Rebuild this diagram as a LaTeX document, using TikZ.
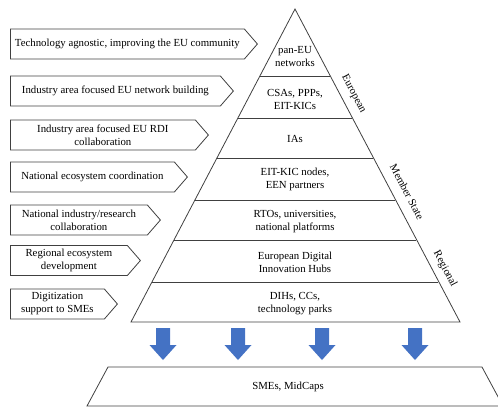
\documentclass[tikz,border=0pt]{standalone}
\usepackage{fontspec}
\setmainfont{Liberation Serif}
\usepackage{tikz}
\usetikzlibrary{shapes.symbols}
\usepackage{xcolor}
\definecolor{arrowblue}{RGB}{68,114,196}
\definecolor{edgegray}{RGB}{64,64,64}

\begin{document}
\begin{tikzpicture}[x=1pt, y=-1pt, font=\fontsize{10.8}{13}\selectfont,
  levelbox/.style={signal, signal to=east, signal pointer angle=98, draw=edgegray, line width=0.8pt, minimum height=30pt, inner sep=2pt, align=center, anchor=west},
  tier/.style={align=center},
  scopelabel/.style={rotate=-62.3}]
  \clip (0,0) rectangle (498,408);

  % Pyramid
  \draw[edgegray, line width=0.8pt] (295,9) coordinate (apex) -- (460,322) coordinate (br) -- (131,322) coordinate (bl) -- cycle;
  \foreach \y in {76,118,158,200,240,282} {
    \pgfmathsetmacro{\hw}{(\y-9)*0.5256}
    \draw[edgegray, line width=0.8pt] (295-\hw,\y) -- (295+\hw,\y);
  }
  \node[tier] (panEU) at (295,57) {pan-EU\\networks};
  \node[tier] (csas) at (295,99) {CSAs, PPPs,\\EIT-KICs};
  \node[tier] (ias) at (295,139) {IAs};
  \node[tier] (eitnodes) at (295,179) {EIT-KIC nodes,\\EEN partners};
  \node[tier] (rtos) at (295,222) {RTOs, universities,\\national platforms};
  \node[tier] (edih) at (295,262) {European Digital\\Innovation Hubs};
  \node[tier] (dihs) at (295,304) {DIHs, CCs,\\technology parks};

  % Levels along the right edge
  \node[scopelabel] (european) at (353.5,94) {European};
  \node[scopelabel] (memberstate) at (407,192) {Member State};
  \node[scopelabel] (regional) at (445,269) {Regional};

  % Activities on the left
  \node[levelbox, minimum width=247pt] (agnostic) at (10,44) {Technology agnostic, improving the EU community};
  \node[levelbox, minimum width=223pt] (netbuild) at (10,91) {Industry area focused EU network building};
  \node[levelbox, minimum width=198pt] (rdi) at (10,135) {Industry area focused EU RDI\\collaboration};
  \node[levelbox, minimum width=177pt] (natcoord) at (10,177) {National ecosystem coordination};
  \node[levelbox, minimum width=150pt] (natcollab) at (10,220) {National industry/research\\collaboration};
  \node[levelbox, minimum width=130pt] (regdev) at (10,260.5) {Regional ecosystem\\development};
  \node[levelbox, minimum width=107pt] (digit) at (10,304) {Digitization\\support to SMEs};

  % Arrows down to the base
  \foreach \ax in {163,238,322,415}
    \fill[arrowblue] (\ax-7,328) -- (\ax+7,328) -- (\ax+7,345) -- (\ax+13.5,345) -- (\ax,360) -- (\ax-13.5,345) -- (\ax-7,345) -- cycle;

  % Base
  \draw[edgegray, line width=0.8pt] (108,367) -- (482,367) -- (503,406) -- (87,406) -- cycle;
  \node (smes) at (288,387) {SMEs, MidCaps};
\end{tikzpicture}
\end{document}
